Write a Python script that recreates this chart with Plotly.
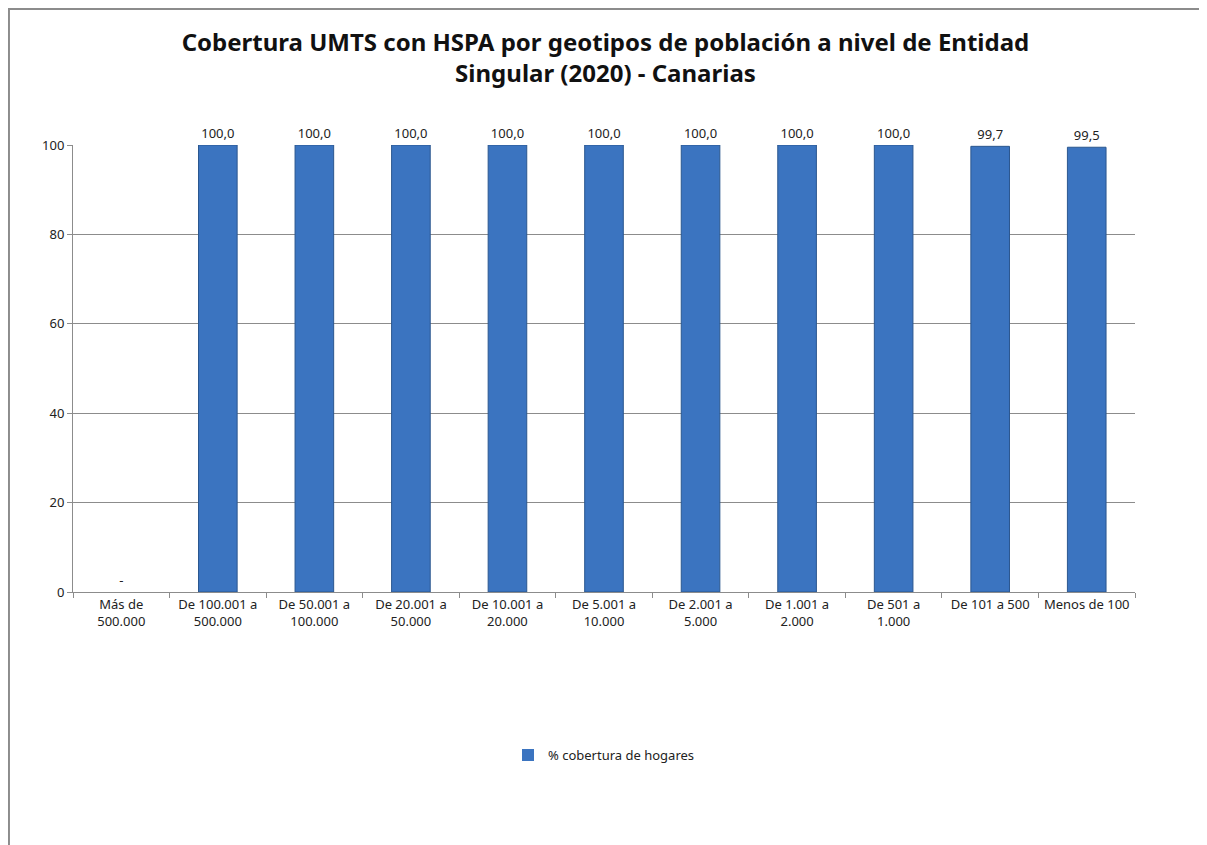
import plotly.graph_objects as go

# data
categories = [
    "Más de<br>500.000", "De 100.001 a<br>500.000", "De 50.001 a<br>100.000",
    "De 20.001 a<br>50.000", "De 10.001 a<br>20.000", "De 5.001 a<br>10.000",
    "De 2.001 a<br>5.000", "De 1.001 a<br>2.000", "De 501 a<br>1.000",
    "De 101 a 500", "Menos de 100",
]
cobertura = [0, 100.0, 100.0, 100.0, 100.0, 100.0, 100.0, 100.0, 100.0, 99.7, 99.5]
etiquetas = ["-"] + [f"{v:.1f}".replace(".", ",") for v in cobertura[1:]]

font_family = "Noto Sans, Open Sans, sans-serif"

fig = go.Figure()
fig.add_trace(go.Bar(
    x=categories,
    y=cobertura,
    name="% cobertura de hogares",
    text=etiquetas,
    textposition="outside",
    cliponaxis=False,
    textfont=dict(size=13, color="#222"),
    marker=dict(
        color="#3b74c0",
        line=dict(color="#2b578f", width=[0 if v == 0 else 1 for v in cobertura]),
    ),
    width=0.4,
))

fig.update_layout(
    width=1207,
    height=845,
    margin=dict(l=65, r=80, t=137, b=261),
    paper_bgcolor="white",
    plot_bgcolor="white",
    font=dict(family=font_family, size=13, color="#222"),
    title=dict(
        text="<b>Cobertura UMTS con HSPA por geotipos de población a nivel de Entidad<br>Singular (2020) - Canarias</b>",
        x=0.495, xanchor="center", y=0.949, yanchor="middle",
        font=dict(size=24, color="#111"),
    ),
    showlegend=True,
    legend=dict(
        orientation="h", x=0.5, xanchor="center", y=-0.365, yanchor="middle",
        font=dict(size=13), itemwidth=30,
    ),
    bargap=0.6,
)

fig.update_yaxes(
    range=[0, 100], tick0=0, dtick=20,
    showgrid=True, gridcolor="#8c8c8c", gridwidth=1,
    showline=True, linecolor="#8c8c8c",
    ticks="outside", ticklen=5, tickcolor="#8c8c8c",
    zeroline=False,
)
fig.update_xaxes(
    showline=True, linecolor="#8c8c8c",
    ticks="outside", ticklen=5, tickcolor="#8c8c8c",
    tickson="boundaries", tickangle=0,
)

# chart frame (left and top edges visible in the picture)
fig.add_shape(
    type="path", xref="paper", yref="paper",
    path="M -0.0603,-0.6 L -0.0603,1.3043 L 1.2,1.3043",
    line=dict(color="#8c8c8c", width=2),
)

fig.write_html("out.html")
